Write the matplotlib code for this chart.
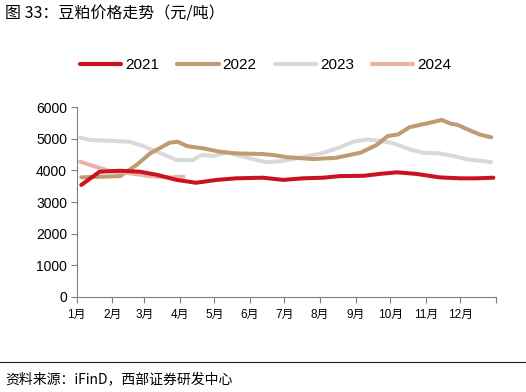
import matplotlib
matplotlib.use("Agg")
import matplotlib.pyplot as plt
from matplotlib.lines import Line2D

plt.rcParams['font.family'] = ['Liberation Sans', 'Noto Sans CJK SC', 'DejaVu Sans']

# day-of-year positions and values (元/吨)
days_2021 = [4, 20, 38, 55, 70, 87, 104, 122, 139, 162, 180, 197, 215, 229, 250, 264, 279, 296, 316, 334, 348, 363]
vals_2021 = [3540, 3960, 3990, 3960, 3860, 3700, 3610, 3700, 3750, 3770, 3700, 3750, 3770, 3820, 3830, 3890, 3940, 3890, 3780, 3750, 3750, 3770]

days_2022 = [4, 38, 52, 64, 81, 88, 96, 110, 125, 139, 162, 171, 183, 206, 226, 247, 261, 271, 280, 290, 305, 318, 325, 332, 343, 351, 361]
vals_2022 = [3780, 3820, 4170, 4540, 4880, 4910, 4770, 4700, 4590, 4540, 4520, 4490, 4420, 4360, 4400, 4560, 4800, 5090, 5140, 5370, 5490, 5600, 5490, 5440, 5260, 5140, 5050]

days_2023 = [3, 12, 29, 46, 58, 72, 87, 101, 109, 120, 131, 151, 165, 180, 194, 215, 229, 241, 253, 264, 276, 290, 302, 316, 328, 340, 351, 361]
vals_2023 = [5040, 4960, 4940, 4910, 4770, 4560, 4330, 4330, 4490, 4460, 4570, 4380, 4260, 4300, 4400, 4560, 4730, 4910, 4980, 4940, 4860, 4670, 4560, 4540, 4460, 4350, 4310, 4260]

days_2024 = [3, 12, 29, 46, 64, 81, 93]
vals_2024 = [4280, 4170, 3980, 3910, 3820, 3780, 3800]

series_names = ['2021', '2022', '2023', '2024']
colors = ['#C8141F', '#C09A72', '#D9D9D9', '#EBB3A6']

month_starts = [0, 31, 59, 90, 120, 151, 181, 212, 243, 273, 304, 334, 365]
month_labels = ['1月', '2月', '3月', '4月', '5月', '6月', '7月', '8月', '9月', '10月', '11月', '12月']
y_ticks = [0, 1000, 2000, 3000, 4000, 5000, 6000]

W, H = 526, 392
fig = plt.figure(figsize=(W / 100, H / 100), dpi=100)
ax = fig.add_axes([76.7 / W, 1 - 296.7 / H, (495.7 - 76.7) / W, (296.7 - 107.3) / H])

data = [(days_2021, vals_2021), (days_2022, vals_2022), (days_2023, vals_2023), (days_2024, vals_2024)]
order = [2, 1, 3, 0]
for i in order:
    d, v = data[i]
    ax.plot(d, v, color=colors[i], lw=2.9, solid_capstyle='round', solid_joinstyle='round', zorder=3 + (i == 0))

ax.set_xlim(0, 365)
ax.set_ylim(0, 6000)
ax.set_xticks(month_starts)
ax.set_xticklabels(month_labels + [''], fontsize=8.5)
ax.set_yticks(y_ticks)
ax.set_yticklabels([str(t) for t in y_ticks], fontsize=10)
for s in ['top', 'right']:
    ax.spines[s].set_visible(False)
for s in ['left', 'bottom']:
    ax.spines[s].set_color('#7f7f7f')
    ax.spines[s].set_linewidth(0.8)
ax.tick_params(axis='both', colors='#7f7f7f', length=4, width=0.8, labelcolor='black')
ax.tick_params(axis='x', pad=5)
ax.tick_params(axis='y', pad=3)

handles = [Line2D([0], [0], color=c, lw=3.0, solid_capstyle='round') for c in colors]
fig.legend(handles, series_names, loc='center', bbox_to_anchor=(0.505, 1 - 65 / H), ncol=4,
           frameon=False, fontsize=11, handlelength=2.7, handletextpad=0.25, columnspacing=1.2)

fig.text(5 / W, 1 - 14 / H, '图 33：豆粕价格走势（元/吨）', fontsize=11.5, va='center', ha='left',
         family=['Noto Sans CJK SC', 'DejaVu Sans'])
fig.add_artist(Line2D([0, 1], [1 - 362 / H, 1 - 362 / H], color='#222222', lw=0.8, transform=fig.transFigure))
fig.text(5 / W, 1 - 379 / H, '资料来源：iFinD，西部证券研发中心', fontsize=10, va='center', ha='left',
         family=['Noto Sans CJK SC', 'DejaVu Sans'])

fig.savefig('out.png', dpi=100)
